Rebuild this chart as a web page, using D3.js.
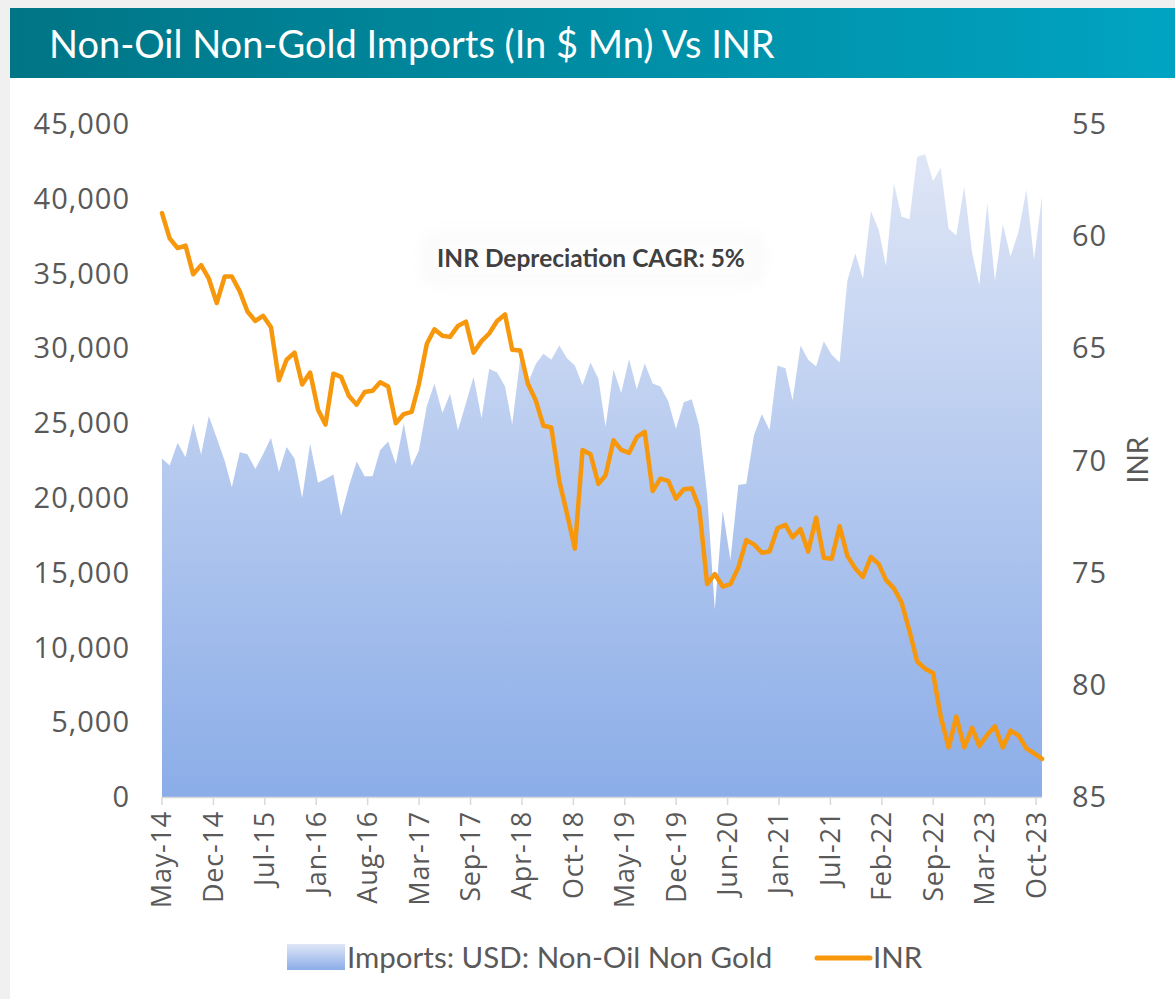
<!DOCTYPE html>
<html><head><meta charset="utf-8">
<script src="https://cdn.jsdelivr.net/npm/d3@7"></script>
<style>
html,body{margin:0;padding:0;background:#f0f0f0;}
svg{display:block;}
</style></head><body>
<svg id="chart" width="1175" height="999"></svg>
<script>
// Monthly series, May-14 .. Oct-23 (month-end values)
const imports = [
22640,22160,23680,22720,24990,22900,25470,24000,22490,20710,
23060,22920,21930,22920,24020,21730,23400,22640,20000,23630,
21020,21270,21560,18810,20790,22440,21450,21450,23200,23770,
22270,24990,22130,23150,26120,27650,25670,26970,24530,26320,
28100,25330,28640,28380,27450,24900,29290,27650,28950,29630,
29230,30190,29340,28860,27530,29060,27960,24760,28580,27020,
29290,27250,29000,27650,27450,26460,24620,26400,26600,24820,
20230,12540,19160,15850,20860,20940,24190,25610,24530,28860,
28660,26510,30190,29230,28780,30480,29570,29060,34520,36360,
34660,39190,37920,35510,41030,38820,38630,42810,42980,41170,
42080,38000,37550,40830,36360,34240,39700,34520,38290,36140,
37780,40610,35940,40180
];
const inr = [
58.97,60.10,60.53,60.42,61.70,61.29,61.89,62.98,61.80,61.80,
62.46,63.36,63.78,63.55,64.06,66.42,65.51,65.19,66.61,66.08,
67.74,68.40,66.13,66.27,67.13,67.51,66.95,66.89,66.51,66.70,
68.34,67.93,67.83,66.61,64.81,64.15,64.44,64.49,64.00,63.81,
65.19,64.68,64.34,63.78,63.49,65.06,65.10,66.57,67.32,68.45,
68.53,70.91,72.36,73.93,69.53,69.72,71.04,70.66,69.10,69.53,
69.66,68.96,68.72,71.36,70.81,70.91,71.70,71.28,71.25,72.11,
75.51,75.06,75.62,75.51,74.77,73.55,73.74,74.11,74.06,73.02,
72.87,73.43,73.06,74.06,72.55,74.34,74.38,72.93,74.25,74.81,
75.19,74.30,74.62,75.32,75.70,76.32,77.60,78.96,79.28,79.47,
81.41,82.79,81.41,82.79,81.92,82.73,82.23,81.85,82.79,82.04,
82.26,82.83,83.06,83.30
];
const tickLabels = ["May-14","Dec-14","Jul-15","Jan-16","Aug-16","Mar-17","Sep-17","Apr-18","Oct-18",
  "May-19","Dec-19","Jun-20","Jan-21","Jul-21","Feb-22","Sep-22","Mar-23","Oct-23"];
const leftTicks = [0,5000,10000,15000,20000,25000,30000,35000,40000,45000];
const rightTicks = [55,60,65,70,75,80,85];
const titleText = "Non-Oil Non-Gold Imports (In $ Mn) Vs INR";
const annotationText = "INR Depreciation CAGR: 5%";
const legendLabels = ["Imports: USD: Non-Oil Non Gold","INR"];

// month-end dates
const firstMonth = new Date(2014,4,1);
const dates = imports.map((_,i)=> d3.timeDay.offset(d3.timeMonth.offset(firstMonth,i+1),-1));
const data = dates.map((d,i)=>({date:d, imp:imports[i], inr:inr[i]}));

const svg = d3.select("#chart");
const W=1175,H=999;
const L=162,R=1042,T=124,B=797;

const x = d3.scaleTime().domain([dates[0], dates[dates.length-1]]).range([L,R]);
const yL = d3.scaleLinear().domain([0,45000]).range([B,T]);
const yR = d3.scaleLinear().domain([55,85]).range([T,B]);

const defs = svg.append("defs");
const tg = defs.append("linearGradient").attr("id","titleGrad").attr("x1","0").attr("x2","1").attr("y1","0").attr("y2","0");
tg.append("stop").attr("offset","0").attr("stop-color","#007585");
tg.append("stop").attr("offset","1").attr("stop-color","#00a4c2");
const ag = defs.append("linearGradient").attr("id","areaGrad").attr("gradientUnits","userSpaceOnUse")
  .attr("x1",0).attr("x2",0).attr("y1",yL(43000)).attr("y2",B);
ag.append("stop").attr("offset","0").attr("stop-color","#dfe6f6");
ag.append("stop").attr("offset","1").attr("stop-color","#8badE8");
const lg = defs.append("linearGradient").attr("id","legGrad").attr("x1","0").attr("x2","0").attr("y1","0").attr("y2","1");
lg.append("stop").attr("offset","0").attr("stop-color","#dfe6f6");
lg.append("stop").attr("offset","1").attr("stop-color","#8badE8");
const f = defs.append("filter").attr("id","glow").attr("x","-20%").attr("y","-60%").attr("width","140%").attr("height","220%");
f.append("feGaussianBlur").attr("stdDeviation",8);

// backgrounds
svg.append("rect").attr("x",0).attr("y",0).attr("width",W).attr("height",H).attr("fill","#f0f0f0");
svg.append("rect").attr("x",10).attr("y",8).attr("width",W-10).attr("height",H-8).attr("fill","#ffffff");
svg.append("rect").attr("x",10).attr("y",8).attr("width",W-10).attr("height",70).attr("fill","url(#titleGrad)");
svg.append("text").attr("x",49).attr("y",58).text(titleText)
  .attr("fill","#ffffff").attr("font-family","Lato, 'Open Sans', sans-serif").attr("font-size",38);

// area
const area = d3.area().x(d=>x(d.date)).y0(B).y1(d=>yL(d.imp));
svg.append("path").datum(data).attr("d",area).attr("fill","url(#areaGrad)");

// x axis line and ticks
const tickDates = tickLabels.map((_,k)=> d3.timeDay.offset(dates[0], 201*k));
svg.append("line").attr("x1",L).attr("x2",R).attr("y1",B+0.5).attr("y2",B+0.5).attr("stroke","#d9d9d9").attr("stroke-width",1.5);
svg.selectAll(".xt").data(tickDates).enter().append("line")
  .attr("x1",d=>x(d)).attr("x2",d=>x(d)).attr("y1",B).attr("y2",B+8)
  .attr("stroke","#d9d9d9").attr("stroke-width",1.5);
svg.selectAll(".xl").data(tickDates).enter().append("text")
  .attr("transform",d=>`translate(${x(d)},${B+14}) rotate(-90)`)
  .attr("text-anchor","end").attr("dy","0.35em")
  .attr("font-family","'Open Sans', sans-serif").attr("font-size",27).attr("letter-spacing",0.8).attr("fill","#595959")
  .text((d,i)=>tickLabels[i]);

// left axis labels
svg.selectAll(".yl").data(leftTicks).enter().append("text")
  .attr("x",130).attr("y",d=>yL(d)).attr("dy","0.35em").attr("text-anchor","end")
  .attr("font-family","'Open Sans', sans-serif").attr("font-size",29).attr("letter-spacing",1).attr("fill","#595959")
  .text(d=>d3.format(",")(d));
// right axis labels
svg.selectAll(".yr").data(rightTicks).enter().append("text")
  .attr("x",1072).attr("y",d=>yR(d)).attr("dy","0.35em").attr("text-anchor","start")
  .attr("font-family","'Open Sans', sans-serif").attr("font-size",29).attr("letter-spacing",1).attr("fill","#595959")
  .text(d=>d);
svg.append("text").attr("transform","translate(1148,460) rotate(-90)").attr("text-anchor","middle")
  .attr("font-family","Lato, sans-serif").attr("font-size",28).attr("fill","#595959").text("INR");

// INR line
const line = d3.line().x(d=>x(d.date)).y(d=>yR(d.inr));
svg.append("path").datum(data).attr("d",line).attr("fill","none")
  .attr("stroke","#f7970c").attr("stroke-width",4.5).attr("stroke-linejoin","round").attr("stroke-linecap","round");

// annotation
svg.append("rect").attr("x",425).attr("y",236).attr("width",335).attr("height",46).attr("rx",8)
  .attr("fill","#e6e6e6").attr("opacity",0.35).attr("filter","url(#glow)");
svg.append("rect").attr("x",430).attr("y",240).attr("width",325).attr("height",38).attr("fill","#ffffff").attr("opacity",0.9).attr("filter","url(#glow)");
svg.append("text").attr("x",591).attr("y",258).attr("dy","0.35em").attr("text-anchor","middle")
  .attr("font-family","Lato, sans-serif").attr("font-weight","bold").attr("font-size",24.5).attr("fill","#404040")
  .text(annotationText);

// legend
svg.append("rect").attr("x",287).attr("y",944).attr("width",58).attr("height",26).attr("fill","url(#legGrad)");
svg.append("text").attr("x",347).attr("y",958).attr("dy","0.35em")
  .attr("font-family","Lato, sans-serif").attr("font-size",29.5).attr("fill","#595959").text(legendLabels[0]);
svg.append("line").attr("x1",817).attr("x2",870).attr("y1",958).attr("y2",958)
  .attr("stroke","#f7970c").attr("stroke-width",5).attr("stroke-linecap","round");
svg.append("text").attr("x",873).attr("y",958).attr("dy","0.35em")
  .attr("font-family","Lato, sans-serif").attr("font-size",29.5).attr("fill","#595959").text(legendLabels[1]);
</script>
</body></html>
